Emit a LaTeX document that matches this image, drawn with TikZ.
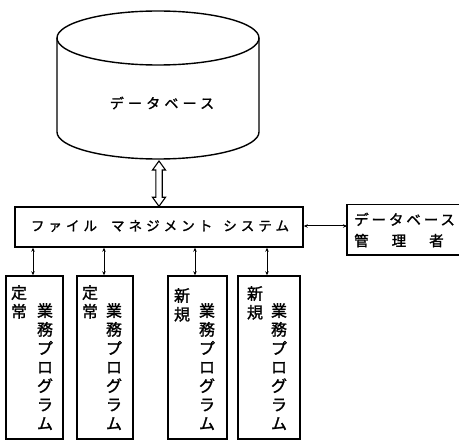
\documentclass[tikz,border=0pt]{standalone}
\usepackage{fontspec}
\newfontfamily\cjk[FakeBold=1.5]{Noto Sans CJK JP}
\newfontfamily\cjkspaced[LetterSpace=30,FakeBold=1.5]{Noto Sans CJK JP}
\newfontfamily\cjkspacedb[LetterSpace=20,FakeBold=1.5]{Noto Sans CJK JP}
\usetikzlibrary{arrows.meta,calc}
\tikzset{
  ln/.style={line width=1.4pt},
  boxnode/.style={draw, ln, inner sep=0pt},
  progbox/.style={boxnode, minimum height=163pt},
  colstack/.style={anchor=north, inner sep=0pt, align=center, font=\cjk\fontsize{16}{18.8}\selectfont},
  smallarr/.style={line width=1pt, {Stealth[length=4pt,width=3.5pt]}-{Stealth[length=4pt,width=3.5pt]}},
}
\begin{document}
\begin{tikzpicture}[x=1pt, y=-1pt]
\useasboundingbox (0,0) rectangle (459,441);
% database cylinder
\draw[ln] (158,38) ellipse [x radius=101pt, y radius=27pt];
\draw[ln] (57,38) -- (57,132) arc[start angle=180, end angle=360, x radius=101pt, y radius=27pt] -- (259,38);
\coordinate (db) at (159,161);
\node[font=\cjkspaced\fontsize{14}{16}\selectfont, inner sep=0pt] (dbtext) at (162,103) {データベース};
% file management system
\node[boxnode, minimum width=288pt, minimum height=40pt] (fms) at (159,227) {};
\node[font=\cjkspaced\fontsize{13.5}{15}\selectfont, inner sep=0pt] (fmstext) at (160,226) {ファイル\hspace{14pt}マネジメント\hspace{11pt}システム};
% hollow double arrow from database to file management system
\draw[line width=1.1pt, line join=miter]
  (db) -- ($(db)+(-6.5,9)$) -- ($(db)+(-3.2,9)$) -- ($(fms.north)+(-3.2,-9)$)
  -- ($(fms.north)+(-6.5,-9)$) -- (fms.north) -- ($(fms.north)+(6.5,-9)$)
  -- ($(fms.north)+(3.2,-9)$) -- ($(db)+(3.2,9)$) -- ($(db)+(6.5,9)$) -- cycle;
% DB administrator (box runs off the right edge)
\node[minimum width=124pt, minimum height=50pt, align=left, anchor=west, inner sep=0pt,
      font=\cjkspacedb\fontsize{14.5}{22}\selectfont, text width=110pt, inner xsep=7pt] (dba) at (347,230)
      {データベース\\[-1pt]管\hspace{23pt}理\hspace{23pt}者};
\draw[ln] (dba.north east) -| (dba.south west) -- (dba.south east);
\draw[smallarr] (fms.east |- 0,226) -- (dba.west |- 0,226);
% program boxes
\node[progbox, minimum width=57pt] (p1) at (34.5,357.5) {};
\node[progbox, minimum width=56pt] (p2) at (105,357.5) {};
\node[progbox, minimum width=59pt] (p3) at (197.5,357.5) {};
\node[progbox, minimum width=62pt] (p4) at (269,357.5) {};
\node[colstack] (p1a) at (19,285) {定\\常};
\node[colstack] (p1b) at (45,303) {業\\務\\プ\\ロ\\グ\\ラ\\ム};
\node[colstack] (p2a) at (90,285) {定\\常};
\node[colstack] (p2b) at (114,303) {業\\務\\プ\\ロ\\グ\\ラ\\ム};
\node[colstack] (p3a) at (182,288) {新\\規};
\node[colstack] (p3b) at (207,303) {業\\務\\プ\\ロ\\グ\\ラ\\ム};
\node[colstack] (p4a) at (255,286) {新\\規};
\node[colstack] (p4b) at (279,303) {業\\務\\プ\\ロ\\グ\\ラ\\ム};
\foreach \p/\xx in {p1/33, p2/104, p3/195, p4/267}
  \draw[smallarr] (\xx,0 |- fms.south) -- (\xx,0 |- \p.north);
\end{tikzpicture}
\end{document}
